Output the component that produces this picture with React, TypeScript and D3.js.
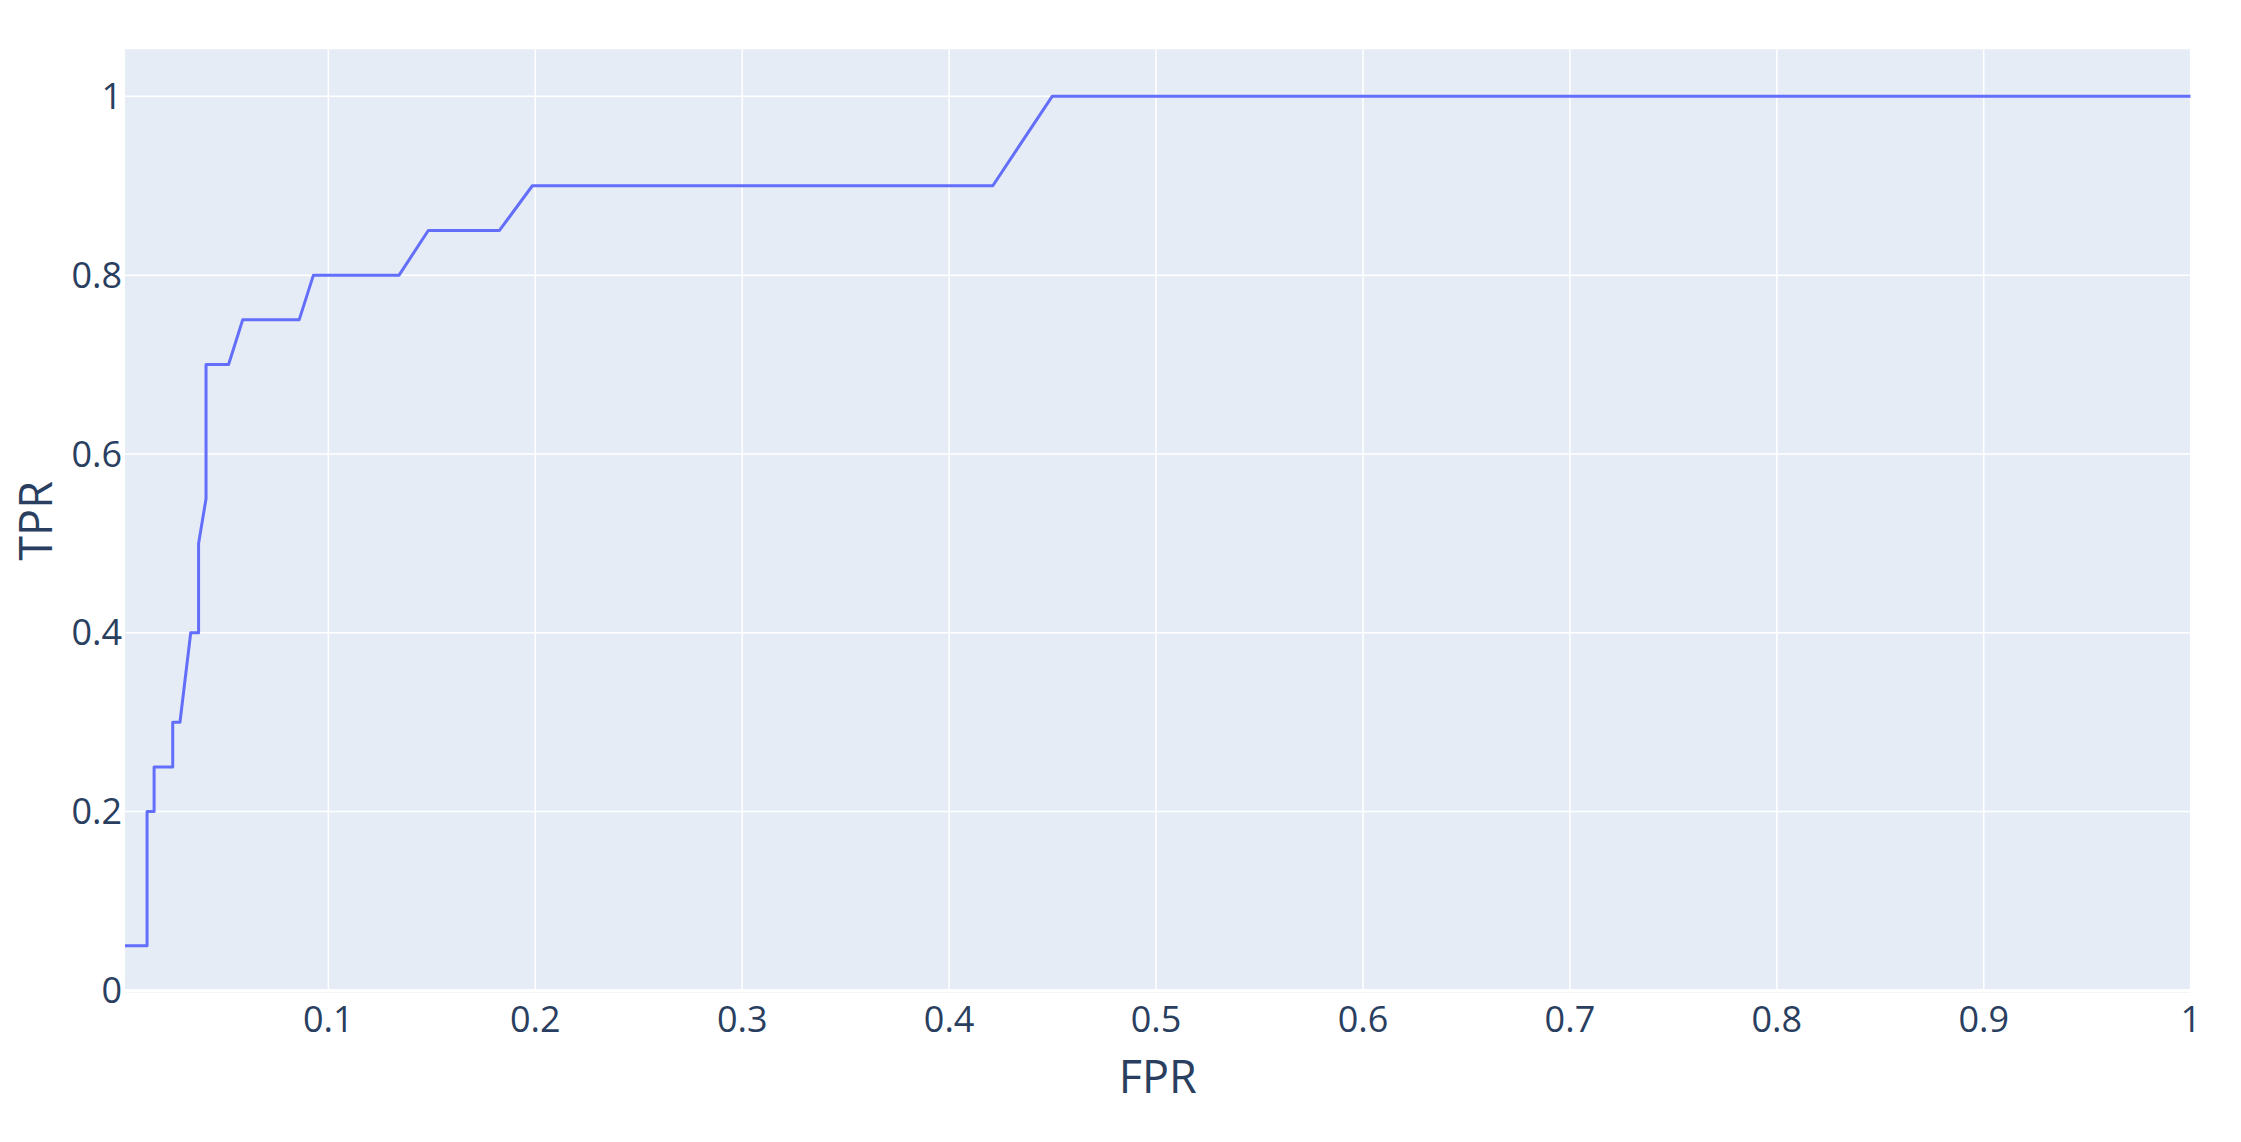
import React from "react";
import * as d3 from "d3";

const fpr = [0.0017, 0.0124, 0.0124, 0.0158, 0.0158, 0.0248, 0.0248, 0.0283, 0.0335, 0.0373, 0.0373, 0.0409, 0.0409, 0.0518, 0.0586, 0.0859, 0.0928, 0.1342, 0.1483, 0.1827, 0.1986, 0.4211, 0.4498, 1.0];
const tpr = [0.05, 0.05, 0.2, 0.2, 0.25, 0.25, 0.3, 0.3, 0.4, 0.4, 0.5, 0.55, 0.7, 0.7, 0.75, 0.75, 0.8, 0.8, 0.85, 0.85, 0.9, 0.9, 1.0, 1.0];
const xTicks = [0.1, 0.2, 0.3, 0.4, 0.5, 0.6, 0.7, 0.8, 0.9, 1];
const yTicks = [0, 0.2, 0.4, 0.6, 0.8, 1];
const xDomain = [0.00174, 1];
const yDomain = [-0.0023, 1.0526];

const W = 2241;
const H = 1142;
const L = 125, R = 2190.7, T = 49.3, B = 992.5;
const FONT = "'Open Sans', 'Noto Sans', sans-serif";
const TXT = "#2a3f5f";

export default function App() {
  const x = d3.scaleLinear().domain(xDomain).range([L, R]);
  const y = d3.scaleLinear().domain(yDomain).range([B, T]);
  const pts = fpr.map((f, i) => [f, tpr[i]] as [number, number]);
  const line = d3.line<[number, number]>().x(d => x(d[0])).y(d => y(d[1]));
  const fmt = (v: number) => (v === 0 || v === 1 ? String(v) : v.toFixed(1));
  return (
    <svg width={W} height={H} style={{ position: "absolute", left: 0, top: 0, display: "block", background: "#fff" }}>
      <rect x={L} y={T} width={R - L} height={B - T} fill="#E5ECF6" />
      {xTicks.map(t => (
        <line key={"gx" + t} x1={x(t)} x2={x(t)} y1={T} y2={B} stroke="#fff" strokeWidth={1.5} />
      ))}
      {yTicks.filter(t => t !== 0).map(t => (
        <line key={"gy" + t} x1={L} x2={R} y1={y(t)} y2={y(t)} stroke="#fff" strokeWidth={1.5} />
      ))}
      <line x1={L} x2={R} y1={y(0)} y2={y(0)} stroke="#fff" strokeWidth={3} />
      <defs>
        <clipPath id="clip">
          <rect x={L} y={T} width={R - L} height={B - T} />
        </clipPath>
      </defs>
      <path d={line(pts) || ""} fill="none" stroke="#636efa" strokeWidth={3} strokeLinejoin="round" clipPath="url(#clip)" />
      {xTicks.map(t => (
        <text key={"tx" + t} x={x(t)} y={1032} textAnchor="middle" fontFamily={FONT} fontSize={36} fill={TXT}>
          {fmt(t)}
        </text>
      ))}
      {yTicks.map(t => (
        <text key={"ty" + t} x={122} y={y(t)} dy="0.35em" textAnchor="end" fontFamily={FONT} fontSize={36} fill={TXT}>
          {fmt(t)}
        </text>
      ))}
      <text x={(L + R) / 2} y={1093} textAnchor="middle" fontFamily={FONT} fontSize={45} fill={TXT}>
        FPR
      </text>
      <text transform={`translate(52, ${(T + B) / 2}) rotate(-90)`} textAnchor="middle" fontFamily={FONT} fontSize={45} fill={TXT}>
        TPR
      </text>
    </svg>
  );
}
